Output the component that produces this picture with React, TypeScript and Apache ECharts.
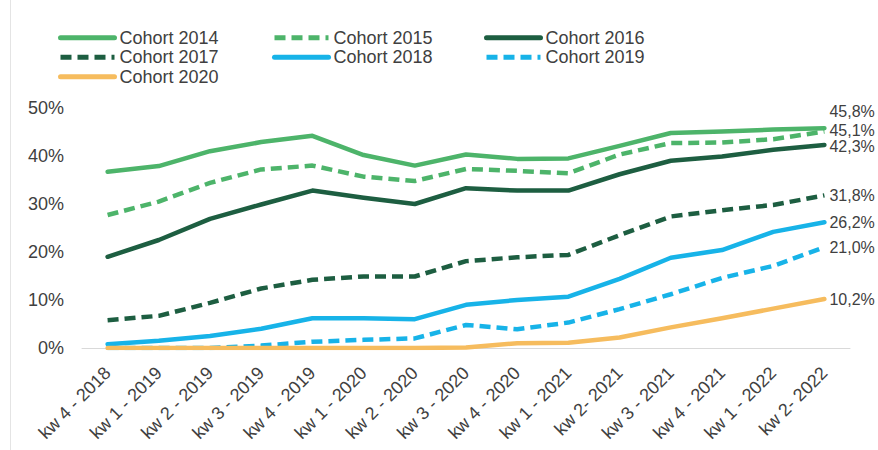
import React, { useEffect, useRef } from "react";
import * as echarts from "echarts";

const categories = [
  "kw 4 - 2018", "kw 1 - 2019", "kw 2 - 2019", "kw 3 - 2019", "kw 4 - 2019",
  "kw 1 - 2020", "kw 2 - 2020", "kw 3 - 2020", "kw 4 - 2020", "kw 1 - 2021",
  "kw 2- 2021", "kw 3 - 2021", "kw 4 - 2021", "kw 1 - 2022", "kw 2- 2022",
];

const cohort2014 = [36.7, 37.9, 41.0, 42.9, 44.2, 40.2, 38.0, 40.3, 39.4, 39.5, 42.1, 44.8, 45.1, 45.5, 45.8];
const cohort2015 = [27.7, 30.5, 34.4, 37.2, 38.0, 35.7, 34.8, 37.3, 36.9, 36.4, 40.3, 42.7, 42.8, 43.5, 45.1];
const cohort2016 = [19.0, 22.5, 26.9, 29.9, 32.8, 31.3, 30.0, 33.3, 32.8, 32.8, 36.2, 39.0, 39.9, 41.3, 42.3];
const cohort2017 = [5.8, 6.7, 9.4, 12.4, 14.2, 14.9, 14.9, 18.1, 18.9, 19.4, 23.5, 27.4, 28.7, 29.8, 31.8];
const cohort2018 = [0.8, 1.5, 2.5, 4.0, 6.2, 6.2, 6.0, 9.0, 10.0, 10.7, 14.4, 18.8, 20.4, 24.2, 26.2];
const cohort2019 = [0, 0, 0, 0.5, 1.3, 1.7, 2.0, 4.8, 3.9, 5.3, 8.1, 11.2, 14.6, 17.1, 21.0];
const cohort2020 = [0, 0, 0, 0, 0, 0, 0, 0.1, 1.0, 1.1, 2.2, 4.3, 6.2, 8.2, 10.2];

const yTicks = [0, 10, 20, 30, 40, 50];

const FONT = "'Liberation Sans', Arial, sans-serif";
const TEXT = "#404040";
const LIGHT_GREEN = "#4DB46A";
const DARK_GREEN = "#1D5E41";
const CYAN = "#17B3E8";
const ORANGE = "#F6BC5E";

const seriesDefs = [
  { name: "Cohort 2014", data: cohort2014, color: LIGHT_GREEN, dashed: false, offset: [0, -17] },
  { name: "Cohort 2015", data: cohort2015, color: LIGHT_GREEN, dashed: true, offset: [0, -1] },
  { name: "Cohort 2016", data: cohort2016, color: DARK_GREEN, dashed: false, offset: [0, 2] },
  { name: "Cohort 2017", data: cohort2017, color: DARK_GREEN, dashed: true, offset: [0, 0] },
  { name: "Cohort 2018", data: cohort2018, color: CYAN, dashed: false, offset: [0, 0] },
  { name: "Cohort 2019", data: cohort2019, color: CYAN, dashed: true, offset: [0, 0] },
  { name: "Cohort 2020", data: cohort2020, color: ORANGE, dashed: false, offset: [0, 0] },
];

const fmt = (v: number) => v.toFixed(1).replace(".", ",") + "%";

export default function App() {
  const ref = useRef<HTMLDivElement>(null);
  useEffect(() => {
    if (!ref.current) return;
    const chart = echarts.init(ref.current, undefined, { renderer: "svg" });
    const legendBase = {
      orient: "vertical",
      top: 28,
      itemWidth: 54,
      itemHeight: 14,
      itemGap: 0,
      itemStyle: { opacity: 0, borderWidth: 0 },
      lineStyle: { width: 5 },
      textStyle: { fontFamily: FONT, fontSize: 18, color: TEXT, lineHeight: 19.5 },
      padding: 0,
    };
    chart.setOption({
      animation: false,
      backgroundColor: "#ffffff",
      textStyle: { fontFamily: FONT },
      graphic: [
        { type: "line", shape: { x1: 10.5, y1: 0, x2: 10.5, y2: 450 }, style: { stroke: "#E4E4E4", lineWidth: 1 } },
      ],
      legend: [
        { ...legendBase, left: 58, data: ["Cohort 2014", "Cohort 2017", "Cohort 2020"] },
        { ...legendBase, left: 272, data: ["Cohort 2015", "Cohort 2018"] },
        { ...legendBase, left: 484, data: ["Cohort 2016", "Cohort 2019"] },
      ],
      grid: { left: 82, right: 28, top: 108, bottom: 102, containLabel: false },
      xAxis: {
        type: "category",
        data: categories,
        boundaryGap: true,
        axisLine: { show: true, lineStyle: { color: "#D9D9D9", width: 1 } },
        axisTick: { show: false },
        axisLabel: { rotate: 45, margin: 22, fontFamily: FONT, fontSize: 18, color: TEXT, interval: 0 },
      },
      yAxis: {
        type: "value",
        min: yTicks[0],
        max: yTicks[yTicks.length - 1],
        interval: 10,
        axisLine: { show: false },
        axisTick: { show: false },
        splitLine: { show: false },
        axisLabel: { formatter: "{value}%", margin: 18, fontFamily: FONT, fontSize: 18, color: TEXT },
      },
      series: seriesDefs.map((s) => ({
        name: s.name,
        type: "line",
        data: s.data,
        symbol: "none",
        smooth: false,
        color: s.color,
        lineStyle: {
          color: s.color,
          width: 4.5,
          type: s.dashed ? [11, 6] : "solid",
          join: "round",
          cap: s.dashed ? "butt" : "round",
        },
        endLabel: {
          show: true,
          formatter: (p: any) => fmt(p.value),
          distance: 5,
          offset: s.offset,
          fontFamily: FONT,
          fontSize: 16,
          lineHeight: 14,
          color: TEXT,
        },
      })),
    });
    return () => chart.dispose();
  }, []);
  return (
    <div
      ref={ref}
      style={{ position: "fixed", left: 0, top: 0, width: 878, height: 450, background: "#fff" }}
    />
  );
}
